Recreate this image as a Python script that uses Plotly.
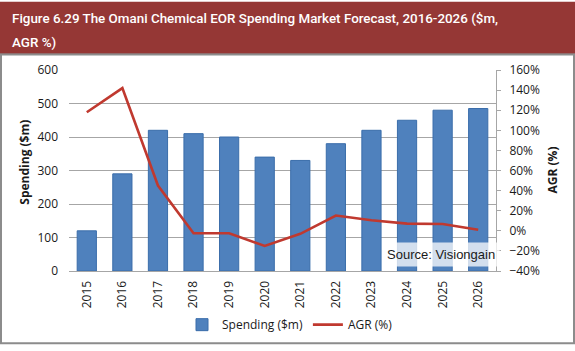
import plotly.graph_objects as go

years = ["2015", "2016", "2017", "2018", "2019", "2020", "2021", "2022", "2023", "2024", "2025", "2026"]
spending = [120, 290, 420, 410, 400, 340, 330, 380, 420, 450, 480, 485]
agr = [118, 142, 45, -2.4, -2.4, -15, -3, 15.2, 10.5, 7.1, 6.7, 1.0]

W, H = 575, 351
L, R, T, B = 69, 496, 70, 276

def px(x):
    return (x - L) / (R - L)

def py(y):
    return (B - y) / (B - T)

fig = go.Figure()
fig.add_trace(go.Bar(
    x=years, y=spending, name="Spending ($m)",
    marker=dict(color="#4F81BD", line=dict(color="#3A6DAA", width=1)),
    yaxis="y",
))
fig.add_trace(go.Scatter(
    x=years, y=agr, name="AGR (%)", mode="lines",
    line=dict(color="#C0392F", width=2.6),
    yaxis="y2",
))

tickfont = dict(family="Open Sans, Liberation Sans, sans-serif", size=12, color="#1a1a1a")
titlefont = dict(family="Roboto, sans-serif", size=13.4, color="white", weight=500)

fig.update_layout(
    width=W, height=H,
    margin=dict(l=L, r=W - R, t=T, b=H - B),
    paper_bgcolor="white", plot_bgcolor="white",
    bargap=0.46,
    showlegend=True,
    legend=dict(orientation="h", x=px(290), xanchor="center", y=py(331), yanchor="middle",
                font=dict(family="Open Sans, Liberation Sans, sans-serif", size=12, color="#1a1a1a"),
                itemwidth=30, bgcolor="rgba(0,0,0,0)"),
    xaxis=dict(type="category", tickangle=-90, tickfont=tickfont, showgrid=False,
               showline=True, linecolor="#a6a6a6", linewidth=1, ticks="", ticklabelstandoff=4),
    yaxis=dict(range=[0, 600], dtick=100, tickfont=tickfont, showgrid=True,
               gridcolor="#a6a6a6", gridwidth=1, zeroline=False, showline=False,
               ticks="", ticklabelstandoff=10),
    yaxis2=dict(range=[-40, 160], dtick=20, ticksuffix="%", overlaying="y", side="right",
                tickfont=tickfont, showgrid=False, zeroline=False, showline=True,
                linecolor="#a6a6a6", ticks="outside", ticklen=4, tickcolor="#a6a6a6",
                ticklabelstandoff=6),
    shapes=[
        dict(type="rect", xref="paper", yref="paper", x0=px(0), x1=px(575), y0=py(0), y1=py(53),
             fillcolor="#953735", line=dict(width=0), layer="below"),
        dict(type="line", xref="paper", yref="paper", x0=px(0), x1=px(575), y0=py(53.5), y1=py(53.5),
             line=dict(color="#6e2422", width=1)),
        dict(type="rect", xref="paper", yref="paper", x0=px(1), x1=px(574), y0=py(54), y1=py(350),
             fillcolor="rgba(0,0,0,0)", line=dict(color="#8c8c8c", width=2)),
    ],
    annotations=[
        dict(xref="paper", yref="paper", x=px(10), y=py(17), xanchor="left", yanchor="middle",
             text="Figure 6.29 The Omani Chemical EOR Spending Market Forecast, 2016-2026 ($m,",
             showarrow=False, font=titlefont),
        dict(xref="paper", yref="paper", x=px(10), y=py(42), xanchor="left", yanchor="middle",
             text="AGR %)", showarrow=False, font=titlefont),
        dict(xref="paper", yref="paper", x=px(25), y=py(165), xanchor="center", yanchor="middle",
             text="<b>Spending ($m)</b>", textangle=-90, showarrow=False,
             font=dict(family="Open Sans, Liberation Sans, sans-serif", size=12, color="#1a1a1a")),
        dict(xref="paper", yref="paper", x=px(552), y=py(173), xanchor="center", yanchor="middle",
             text="<b>AGR (%)</b>", textangle=-90, showarrow=False,
             font=dict(family="Open Sans, Liberation Sans, sans-serif", size=12, color="#1a1a1a")),
        dict(xref="paper", yref="paper", x=px(441), y=py(259), xanchor="center", yanchor="middle",
             text="Source: Visiongain", showarrow=False, bgcolor="rgba(255,255,255,0.75)",
             borderpad=4,
             font=dict(family="Liberation Sans, Arial, sans-serif", size=13, color="#1a1a1a")),
    ],
)

fig.write_html("out.html")
